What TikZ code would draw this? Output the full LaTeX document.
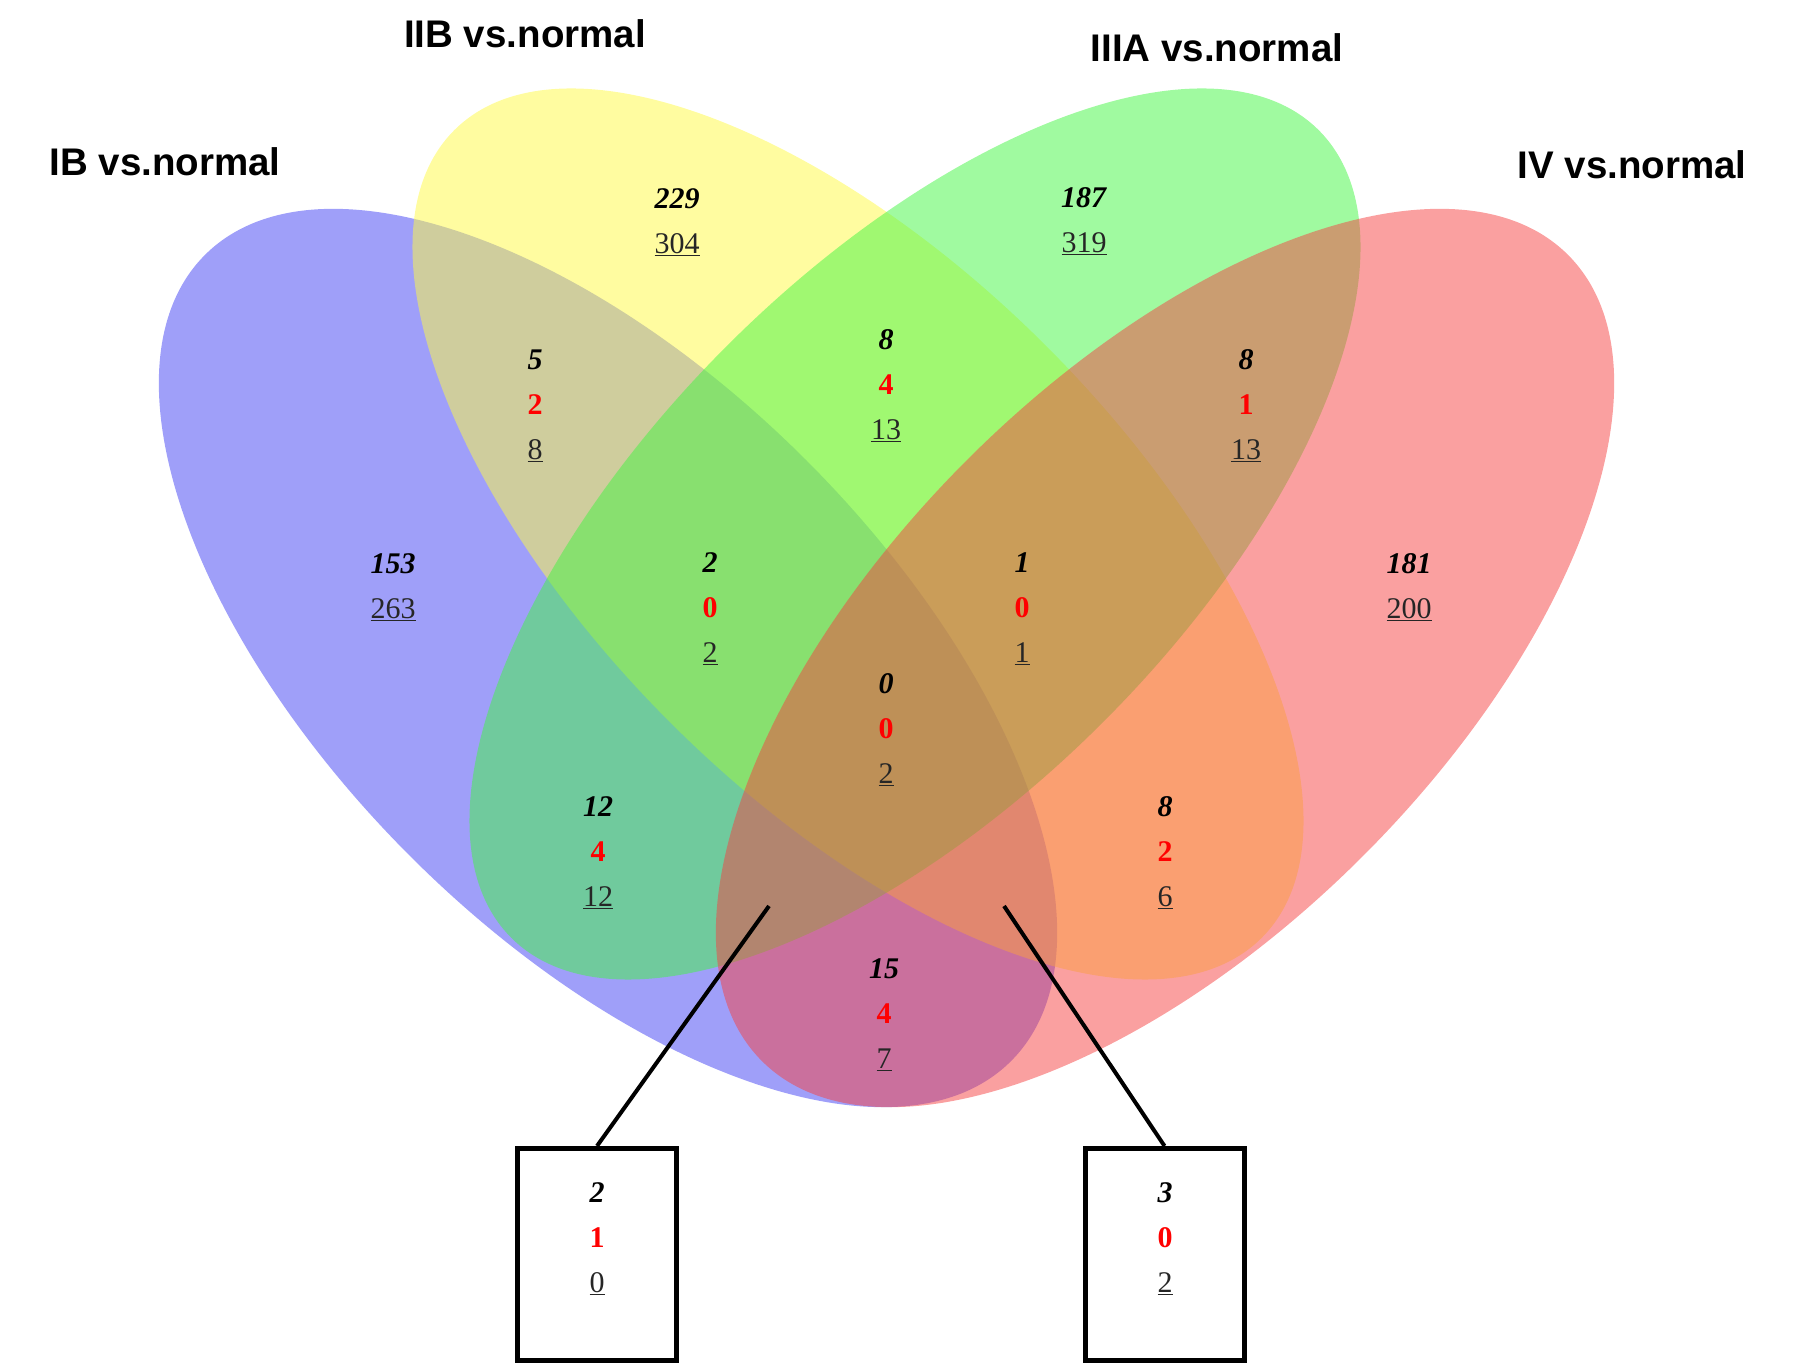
\documentclass[tikz,border=0pt]{standalone}
\usepackage{fontspec}
\setmainfont{Liberation Serif}
\newfontfamily\titlefont{Liberation Sans}
\definecolor{vblue}{RGB}{64,64,244}
\definecolor{vyellow}{RGB}{255,250,66}
\definecolor{vgreen}{RGB}{66,245,66}
\definecolor{vred}{RGB}{245,66,66}
\newcommand\venntrip[3]{\textbf{\textit{#1}}\\\textcolor{red}{\textbf{#2}}\\\textcolor{black!85}{\underline{#3}}}
\newcommand\vennduo[2]{\textbf{\textit{#1}}\\\textcolor{black!85}{\underline{#2}}}
\begin{document}
\begin{tikzpicture}[x=1pt,y=1pt,
  venn/.style={fill opacity=0.5},
  ttl/.style={font=\titlefont\bfseries\fontsize{38.5}{44}\selectfont, inner sep=0},
  cnt/.style={font=\fontsize{30}{45}\selectfont, align=center, inner sep=0},
  conn/.style={line width=4pt},
  boxst/.style={draw, line width=5pt, minimum width=159pt, minimum height=212pt, inner sep=0}]
\useasboundingbox (0,0) rectangle (1795,1368);
% ellipses
\fill[vblue, venn, rotate around={-45:(608,710)}] (608,710) ellipse [x radius=570, y radius=280];
\fill[vyellow, venn, rotate around={-45:(858,834)}] (858,834) ellipse [x radius=571, y radius=266];
\fill[vgreen, venn, rotate around={45:(915,834)}] (915,834) ellipse [x radius=571, y radius=266];
\fill[vred, venn, rotate around={45:(1165,710)}] (1165,710) ellipse [x radius=570, y radius=280];
% titles
\node[ttl] (tIB) at (165,1206) {IB vs.normal};
\node[ttl] (tIIB) at (525,1334) {IIB vs.normal};
\node[ttl] (tIIIA) at (1217,1320) {IIIA vs.normal};
\node[ttl] (tIV) at (1632,1203) {IV vs.normal};
% counts
\node[cnt] (c229) at (677,1146) {\vennduo{229}{304}};
\node[cnt] (c187) at (1084,1147) {\vennduo{187}{319}};
\node[cnt] (c153) at (393,781) {\vennduo{153}{263}};
\node[cnt] (c181) at (1409,781) {\vennduo{181}{200}};
\node[cnt] (c5) at (535,962) {\venntrip{5}{2}{8}};
\node[cnt] (c8a) at (886,982) {\venntrip{8}{4}{13}};
\node[cnt] (c8b) at (1246,962) {\venntrip{8}{1}{13}};
\node[cnt] (c2) at (710,759) {\venntrip{2}{0}{2}};
\node[cnt] (c1) at (1022,759) {\venntrip{1}{0}{1}};
\node[cnt] (c0) at (886,638) {\venntrip{0}{0}{2}};
\node[cnt] (c12) at (598,515) {\venntrip{12}{4}{12}};
\node[cnt] (c8c) at (1165,515) {\venntrip{8}{2}{6}};
\node[cnt] (c15) at (884,353) {\venntrip{15}{4}{7}};
% boxes
\node[boxst] (boxL) at (597,113.5) {};
\node[boxst] (boxR) at (1164.5,113.5) {};
\node[cnt] (bL) at (597,129) {\venntrip{2}{1}{0}};
\node[cnt] (bR) at (1165,129) {\venntrip{3}{0}{2}};
\coordinate (pL) at (769,462);
\coordinate (pR) at (1004,462);
\draw[conn] (boxL.north) -- (pL);
\draw[conn] (boxR.north) -- (pR);
\end{tikzpicture}
\end{document}
